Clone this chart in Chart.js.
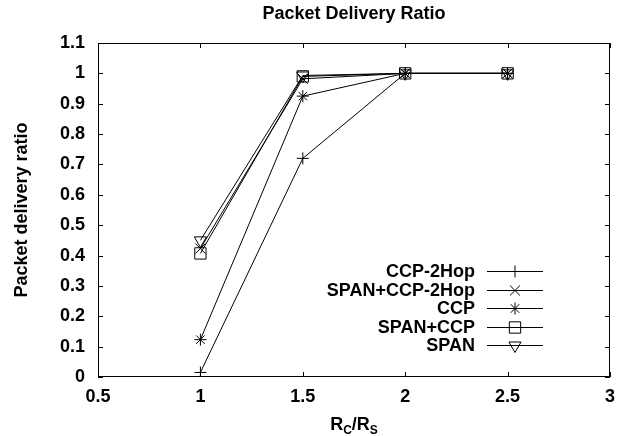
<!DOCTYPE html>
<html>
<head>
<meta charset="utf-8">
<script src="https://cdn.jsdelivr.net/npm/chart.js@4.4.1/dist/chart.umd.min.js"></script>
<style>
  html, body { margin: 0; padding: 0; background: #fff; }
  #pdr { display: block; }
</style>
</head>
<body>
<canvas id="pdr" width="624" height="436"></canvas>
<script>
// data
var ratios = [1, 1.5, 2, 2.5];
var ccp2hop = [0.015, 0.72, 1.0, 1.0];
var spanCcp2hop = [0.423, 0.982, 1.0, 1.0];
var ccp = [0.123, 0.925, 1.0, 1.0];
var spanCcp = [0.407, 0.99, 1.0, 1.0];
var span = [0.45, 0.993, 1.0, 1.0];

var seriesNames = ['CCP-2Hop', 'SPAN+CCP-2Hop', 'CCP', 'SPAN+CCP', 'SPAN'];
var seriesValues = [ccp2hop, spanCcp2hop, ccp, spanCcp, span];
var markers = ['cross', 'crossRot', 'star', 'rect', 'triangle'];
var markerSize = [6, 7, 6, 8, 7];
var markerTurn = [0, 0, 0, 0, 180];

var boldFont = "'Liberation Sans', Arial, Helvetica, sans-serif";

function toPoints(vals) {
  return vals.map(function (v, i) { return { x: ratios[i], y: v }; });
}

// 1.0 -> "1", 0.30000000000000004 -> "0.3"
function tickText(v) {
  return String(Math.round(v * 10) / 10);
}

var datasets = seriesNames.map(function (name, i) {
  return {
    label: name,
    data: toPoints(seriesValues[i]),
    borderColor: '#000',
    borderWidth: 1,
    backgroundColor: 'rgba(0,0,0,0)',
    pointStyle: markers[i],
    pointRadius: markerSize[i],
    pointHoverRadius: markerSize[i],
    pointRotation: markerTurn[i],
    pointBorderColor: '#000',
    pointBorderWidth: 1,
    pointBackgroundColor: 'rgba(0,0,0,0)',
    fill: false,
    tension: 0
  };
});

// gnuplot style frame: box + inward ticks on every side
var framePlugin = {
  id: 'frame',
  beforeDatasetsDraw: function (chart) {
    var ctx = chart.ctx, a = chart.chartArea;
    var xs = chart.scales.x, ys = chart.scales.y;
    ctx.save();
    ctx.strokeStyle = '#000';
    ctx.lineWidth = 1;
    ctx.strokeRect(a.left + 0.5, a.top + 0.5, a.right - a.left - 1, a.bottom - a.top - 1);
    ctx.beginPath();
    xs.ticks.forEach(function (t) {
      var px = Math.round(xs.getPixelForValue(t.value)) + 0.5;
      ctx.moveTo(px, a.bottom); ctx.lineTo(px, a.bottom - 5);
      ctx.moveTo(px, a.top); ctx.lineTo(px, a.top + 5);
    });
    ys.ticks.forEach(function (t) {
      var py = Math.round(ys.getPixelForValue(t.value)) + 0.5;
      ctx.moveTo(a.left, py); ctx.lineTo(a.left + 5, py);
      ctx.moveTo(a.right, py); ctx.lineTo(a.right - 5, py);
    });
    ctx.stroke();
    ctx.restore();
  },
  afterDraw: function (chart) {
    var ctx = chart.ctx, a = chart.chartArea;
    ctx.save();
    ctx.fillStyle = '#000';
    ctx.strokeStyle = '#000';
    ctx.lineWidth = 1;

    // legend, bottom right inside the plot
    ctx.font = 'bold 18px ' + boldFont;
    ctx.textAlign = 'right';
    ctx.textBaseline = 'middle';
    var textRight = a.right - 135;
    var lineL = a.right - 123, lineR = a.right - 67;
    var rowY = a.bottom - 106;
    chart.data.datasets.forEach(function (ds, i) {
      var y = Math.round(rowY + i * 18.6);
      ctx.fillStyle = '#000';
      ctx.fillText(ds.label, textRight, y + 1);
      ctx.beginPath();
      ctx.moveTo(lineL, y + 0.5);
      ctx.lineTo(lineR, y + 0.5);
      ctx.stroke();
      ctx.fillStyle = 'rgba(0,0,0,0)';
      Chart.helpers.drawPoint(ctx, {
        pointStyle: ds.pointStyle,
        rotation: ds.pointRotation,
        radius: ds.pointRadius,
        borderWidth: 1
      }, (lineL + lineR) / 2, y + 0.5);
    });

    // x axis title R_C / R_S with subscripts
    ctx.fillStyle = '#000';
    var big = 'bold 18px ' + boldFont, small = 'bold 12px ' + boldFont;
    var parts = [['R', big, 0], ['C', small, 4], ['/R', big, 0], ['S', small, 4]];
    var total = 0;
    parts.forEach(function (p) { ctx.font = p[1]; total += ctx.measureText(p[0]).width; });
    var x = (a.left + a.right) / 2 - total / 2;
    var baseY = a.bottom + 53;
    ctx.textAlign = 'left';
    ctx.textBaseline = 'alphabetic';
    parts.forEach(function (p) {
      ctx.font = p[1];
      ctx.fillText(p[0], x, baseY + p[2]);
      x += ctx.measureText(p[0]).width;
    });
    ctx.restore();
  }
};

new Chart(document.getElementById('pdr'), {
  type: 'line',
  data: { datasets: datasets },
  options: {
    responsive: false,
    animation: false,
    layout: { padding: { left: 0, right: 14, top: 0, bottom: 0 } },
    plugins: {
      legend: { display: false },
      tooltip: { enabled: false },
      title: {
        display: true,
        fullSize: false,
        text: 'Packet Delivery Ratio',
        color: '#000',
        font: { family: boldFont, size: 18, weight: 'bold' },
        padding: { top: 3, bottom: 18.4 }
      }
    },
    scales: {
      x: {
        type: 'linear',
        min: 0.5,
        max: 3,
        ticks: {
          stepSize: 0.5, color: '#000', padding: 9,
          font: { family: boldFont, size: 18, weight: 'bold' },
          callback: tickText
        },
        grid: { display: false, drawTicks: false },
        border: { display: false },
        afterFit: function (s) { s.height = 59; }
      },
      y: {
        min: 0,
        max: 1.1,
        ticks: {
          stepSize: 0.1, color: '#000', padding: 13,
          font: { family: boldFont, size: 18, weight: 'bold' },
          callback: tickText
        },
        grid: { display: false, drawTicks: false },
        border: { display: false },
        title: {
          display: true,
          text: 'Packet delivery ratio',
          color: '#000',
          font: { family: boldFont, size: 18, weight: 'bold' },
          padding: { top: 11, bottom: 0 }
        },
        afterFit: function (s) { s.width = 98; }
      }
    }
  },
  plugins: [framePlugin]
});
</script>
</body>
</html>
